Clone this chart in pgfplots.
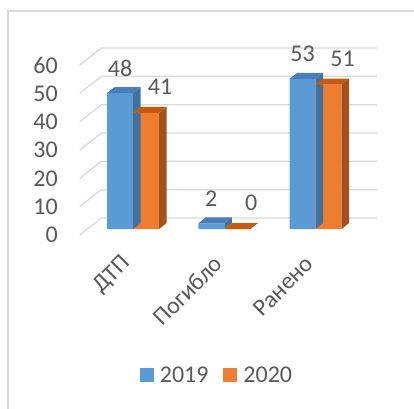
\documentclass[border=0pt]{standalone}
\usepackage{pgfplots}
\pgfplotsset{compat=1.18}
\usepackage{pgfplotstable}
\usepackage{fontspec}
\setmainfont{Carlito}
\definecolor{cblue}{HTML}{5B9BD5}
\definecolor{corange}{HTML}{ED7D31}
\definecolor{cbluetop}{HTML}{4A7EBB}
\definecolor{cblueside}{HTML}{41719C}
\definecolor{corangetop}{HTML}{C55A11}
\definecolor{corangeside}{HTML}{A5511C}
\definecolor{cgrid}{HTML}{D9D9D9}
\definecolor{ctext}{HTML}{595959}
\pgfdeclareplotmark{nothing}{}
\pgfplotstableread{
x a b
0.5 48 41
1.5 2 0
2.5 53 51
}\datatable
\newcommand{\bigfont}{\fontsize{24}{28}\selectfont}
\begin{document}
\begin{tikzpicture}[x=1pt,y=1pt]
\useasboundingbox (0,0) rectangle (414,408);
\begin{scope}
\clip (0,0) rectangle (414,408);
\draw[cgrid, line width=1.5pt] (8,-10) rectangle (430,397);
\end{scope}
\begin{axis}[
  at={(87.4pt,179pt)}, anchor=south west,
  scale only axis, width=273.75pt, height=170pt,
  xmin=0, xmax=3, ymin=0, ymax=60,
  clip=false,
  axis line style={draw=none},
  tick style={draw=none},
  /pgf/number format/assume math mode=true,
  ytick={0,10,20,30,40,50,60},
  xtick={0.5,1.5,2.5},
  xticklabels={ДТП,Погибло,Ранено},
  yticklabel style={font=\bigfont, text=ctext, anchor=east, inner sep=0pt, xshift=-29.4pt, yshift=-6pt},
  xticklabel style={font=\bigfont, text=ctext, xshift=-6pt, yshift=-31pt, rotate=45, anchor=east, inner sep=0pt},
  legend style={at={(0.4734,-0.8588)}, anchor=center, draw=none, fill=none, legend columns=2,
    font=\bigfont, text=ctext, /tikz/every even column/.append style={column sep=13pt}},
  legend image code/.code={\fill[#1] (0pt,-7pt) rectangle (14pt,7pt); \path (0pt,0pt) -- (18pt,0pt);},
]
% gridlines (floor front edge -> back wall)
\addplot[forget plot, cgrid, line width=1.3pt, mark=none] coordinates {(-0.0833,-2.118) (0.1523,3.882) (3.174,3.882)};
\addplot[forget plot, cgrid, line width=1.3pt, mark=none] coordinates {(-0.0833,7.882) (0.1523,13.882) (3.174,13.882)};
\addplot[forget plot, cgrid, line width=1.3pt, mark=none] coordinates {(-0.0833,17.882) (0.1523,23.882) (3.174,23.882)};
\addplot[forget plot, cgrid, line width=1.3pt, mark=none] coordinates {(-0.0833,27.882) (0.1523,33.882) (3.174,33.882)};
\addplot[forget plot, cgrid, line width=1.3pt, mark=none] coordinates {(-0.0833,37.882) (0.1523,43.882) (3.174,43.882)};
\addplot[forget plot, cgrid, line width=1.3pt, mark=none] coordinates {(-0.0833,47.882) (0.1523,53.882) (3.174,53.882)};
\addplot[forget plot, cgrid, line width=1.3pt, mark=none] coordinates {(-0.0833,57.882) (0.1523,63.882) (3.174,63.882)};
% 2019 front faces
\addplot[ybar, bar width=26pt, bar shift=-13pt, fill=cblue, draw=none,
  nodes near coords, every node near coord/.append style={font=\bigfont, text=ctext, anchor=center, xshift=-13pt, yshift=25pt}]
  table[x=x,y=a]{\datatable};
\addlegendentry{2019}
% 2019 top and side faces
\addplot[forget plot, scatter, only marks, mark=nothing,
  visualization depends on={rawy \as \val},
  scatter/@pre marker code/.code={%
    \pgfmathsetlengthmacro\hh{\val*2.8333pt}%
    \pgfsetfillcolor{cblueside}%
    \pgfpathmoveto{\pgfqpoint{0pt}{0pt}}%
    \pgfpathlineto{\pgfpoint{0pt}{-\hh}}%
    \pgfpathlineto{\pgfpoint{7.6pt}{6pt-\hh}}%
    \pgfpathlineto{\pgfqpoint{7.6pt}{6pt}}%
    \pgfpathclose
    \pgfusepath{fill}%
    \pgfsetfillcolor{cbluetop}%
    \pgfpathmoveto{\pgfqpoint{-26pt}{0pt}}%
    \pgfpathlineto{\pgfqpoint{0pt}{0pt}}%
    \pgfpathlineto{\pgfqpoint{7.6pt}{6pt}}%
    \pgfpathlineto{\pgfqpoint{-18.4pt}{6pt}}%
    \pgfpathclose
    \pgfusepath{fill}%
  },
  scatter/@post marker code/.code={}]
  table[x=x,y=a]{\datatable};
% 2020 front faces
\addplot[ybar, bar width=26pt, bar shift=13pt, fill=corange, draw=none,
  nodes near coords, every node near coord/.append style={font=\bigfont, text=ctext, anchor=center, xshift=27pt, yshift=26pt}]
  table[x=x,y=b]{\datatable};
\addlegendentry{2020}
% 2020 top and side faces
\addplot[forget plot, scatter, only marks, mark=nothing,
  visualization depends on={rawy \as \val},
  scatter/@pre marker code/.code={%
    \pgfmathsetlengthmacro\hh{\val*2.8333pt}%
    \pgfsetfillcolor{corangeside}%
    \pgfpathmoveto{\pgfqpoint{26pt}{0pt}}%
    \pgfpathlineto{\pgfpoint{26pt}{-\hh}}%
    \pgfpathlineto{\pgfpoint{33.6pt}{6pt-\hh}}%
    \pgfpathlineto{\pgfqpoint{33.6pt}{6pt}}%
    \pgfpathclose
    \pgfusepath{fill}%
    \pgfsetfillcolor{corangetop}%
    \pgfpathmoveto{\pgfqpoint{0pt}{0pt}}%
    \pgfpathlineto{\pgfqpoint{26pt}{0pt}}%
    \pgfpathlineto{\pgfqpoint{33.6pt}{6pt}}%
    \pgfpathlineto{\pgfqpoint{7.6pt}{6pt}}%
    \pgfpathclose
    \pgfusepath{fill}%
  },
  scatter/@post marker code/.code={}]
  table[x=x,y=b]{\datatable};
\end{axis}
\end{tikzpicture}
\end{document}
